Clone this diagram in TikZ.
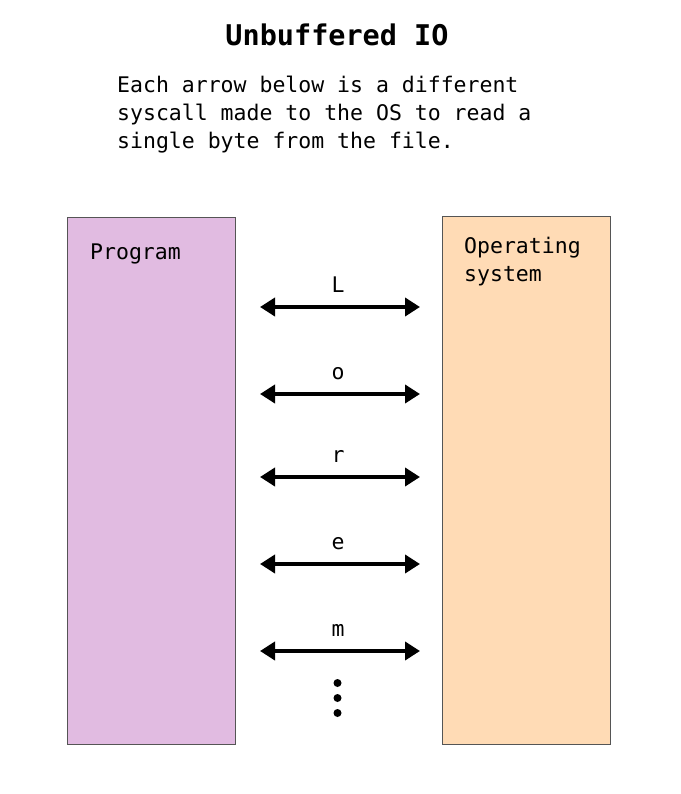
\documentclass[tikz,border=0pt]{standalone}
\usepackage{fontspec}
\setmonofont{DejaVu Sans Mono}
\usepackage{tikz}
\usetikzlibrary{arrows.meta}
\definecolor{progfill}{HTML}{E1BBE1}
\definecolor{osfill}{HTML}{FFDBB5}
\definecolor{boxline}{HTML}{555555}
\tikzset{
  sysbox/.style={draw=boxline, line width=0.8pt},
  txt/.style={font=\ttfamily\fontsize{21.5}{28}\selectfont, inner sep=0pt},
  call/.style={{Triangle[length=15pt,width=18pt]}-{Triangle[length=15pt,width=18pt]}, line width=3.8pt}
}
\begin{document}
\begin{tikzpicture}[x=1pt,y=-1pt]
			\useasboundingbox (0,0) rectangle (680,794);
			\draw [sysbox, fill=progfill] (67,217) rectangle (235,744);
			\draw [sysbox, fill=osfill] (442,216) rectangle (610,744);
			\node (title) [txt, anchor=base, font=\ttfamily\bfseries\fontsize{28.5}{34}\selectfont] at (337,46) {Unbuffered IO};
			\node (desc) [txt, anchor=base west, align=left] at (117,149) {Each arrow below is a different\\syscall made to the OS to read a\\single byte from the file.};
			\node (prog) [txt, anchor=base west] at (90,259) {Program};
			\node (os) [txt, anchor=base west, align=left] at (464,281) {Operating\\system};
			\foreach \ch/\y [count=\i] in {L/307, o/394, r/477, e/564, m/651} {
				\coordinate (a\i) at (260,\y);
				\coordinate (b\i) at (420,\y);
				\draw [call] (a\i) -- (b\i);
				\node (c\i) [txt, anchor=base] at (338,\y-15) {\ch};
			}
			\foreach \y in {683, 698, 713}
				\fill (337.5,\y) circle (4);
			\end{tikzpicture}
\end{document}
